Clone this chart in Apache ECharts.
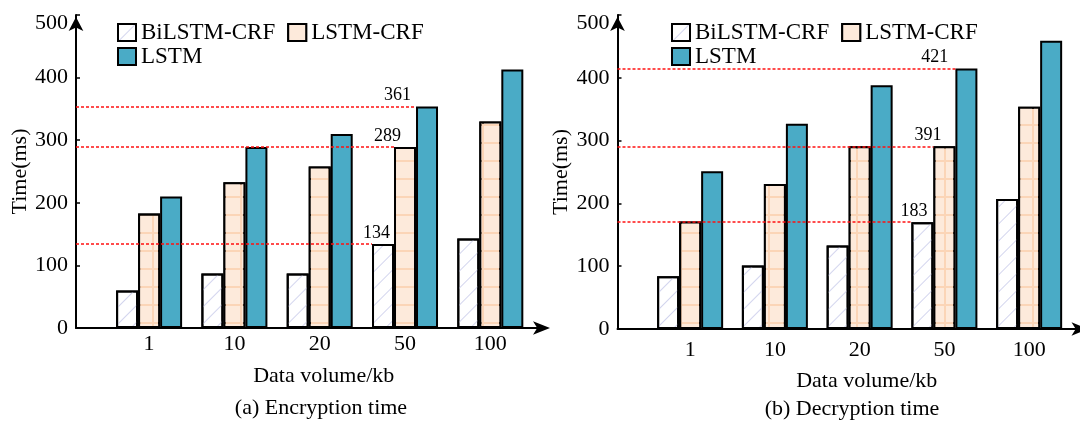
<!DOCTYPE html>
<html><head><meta charset="utf-8">
<script src="https://cdn.jsdelivr.net/npm/echarts@6/dist/echarts.min.js"></script>
<style>html,body{margin:0;padding:0;background:#fff}#c{width:1080px;height:421px}</style>
</head><body><div id="c"></div>
<script>
// ---------- data ----------
const categories = ['1', '10', '20', '50', '100'];
const seriesNames = ['BiLSTM-CRF', 'LSTM-CRF', 'LSTM'];
const encBiLSTMCRF = [60, 87, 87, 134, 143];
const encLSTMCRF = [183, 233, 258, 289, 330];
const encLSTM = [210, 289, 310, 354, 413];
const decBiLSTMCRF = [84, 101, 133, 170, 207];
const decLSTMCRF = [171, 231, 291, 291, 354];
const decLSTM = [251, 327, 388, 415, 459];
const yTickValues = [0, 100, 200, 300, 400, 500];
const encMarkValues = [354, 289, 134];
const encMarkLabels = ['361', '289', '134'];
const decMarkValues = [415, 291, 170];
const decMarkLabels = ['421', '391', '183'];
const markCategory = 3;
const markSeries = [2, 1, 0];
const captions = ['(a) Encryption time', '(b) Decryption time'];
const xTitle = 'Data volume/kb';
const yTitle = 'Time(ms)';

// ---------- styling / layout ----------
const FONT = 'Liberation Serif';
const X_MIN = -0.857, X_MAX = 4.6;
const GRID_W = 465.5;
const BAR_W = 22;
const PX_PER_UNIT = GRID_W / (X_MAX - X_MIN);
const panels = [
  { left: 76, top: 15, height: 313, legendLeft: 117, catMargin: 5, xNameGap: 37, xNamePad: 30, yNameGap: 44,
    caption: { x: 321, y: 397 }, labelDx: [-3, 9, 20] },
  { left: 617.5, top: 15, height: 314, legendLeft: 671, catMargin: 10, xNameGap: 41, xNamePad: 36, yNameGap: 45,
    caption: { x: 852, y: 398 }, labelDx: [-5, 10, 18] }
];
const seriesStyles = [
  { color: '#ffffff', borderColor: '#000', borderWidth: 2,
    decal: { symbol: 'rect', symbolSize: 1, color: '#d3d5ee', dashArrayX: [1, 0], dashArrayY: [1, 11], rotation: -Math.PI / 4 } },
  { color: '#fbd5b7', borderColor: '#000', borderWidth: 2,
    decal: { symbol: 'rect', symbolSize: 1, color: '#fdeadb', dashArrayX: [20, 2], dashArrayY: [16, 2] } },
  { color: '#4aabc6', borderColor: '#000', borderWidth: 2 }
];

const panelData = [
  { values: [encBiLSTMCRF, encLSTMCRF, encLSTM], marks: encMarkValues, markLabels: encMarkLabels },
  { values: [decBiLSTMCRF, decLSTMCRF, decLSTM], marks: decMarkValues, markLabels: decMarkLabels }
];

const grid = [], xAxis = [], yAxis = [], series = [], legend = [], title = [];
panels.forEach((p, gi) => {
  grid.push({ left: p.left, top: p.top, width: GRID_W, height: p.height, containLabel: false });
  xAxis.push({
    type: 'value', gridIndex: gi, min: X_MIN, max: X_MAX,
    axisLine: { show: true, onZero: false, lineStyle: { color: '#000', width: 2 }, symbol: ['none', 'arrow'], symbolSize: [10, 17], symbolOffset: [0, 8.5] },
    axisTick: { show: false }, splitLine: { show: false },
    axisLabel: { customValues: categories.map((c, i) => i), formatter: v => categories[Math.round(v)],
      fontFamily: FONT, fontSize: 22, color: '#000', margin: p.catMargin },
    name: xTitle, nameLocation: 'middle', nameGap: p.xNameGap,
    nameTextStyle: { fontFamily: FONT, fontSize: 22, color: '#000', padding: [0, 0, 0, p.xNamePad] }
  });
  yAxis.push({
    type: 'value', gridIndex: gi, min: 0, max: 500, interval: 100,
    axisLine: { show: true, onZero: false, lineStyle: { color: '#000', width: 2 }, symbol: ['none', 'arrow'], symbolSize: [11, 14], symbolOffset: [0, -2] },
    axisTick: { show: true, inside: true, length: 4, lineStyle: { color: '#000', width: 1.5 } },
    splitLine: { show: false },
    axisLabel: { fontFamily: FONT, fontSize: 22, color: '#000', margin: 8,
      formatter: v => v === yTickValues[yTickValues.length - 1] ? '{t|' + v + '}' : String(v),
      rich: { t: { fontFamily: FONT, fontSize: 22, color: '#000', padding: [16, 0, 0, 0] } } },
    name: yTitle, nameLocation: 'middle', nameGap: p.yNameGap, nameRotate: 90,
    nameTextStyle: { fontFamily: FONT, fontSize: 22, color: '#000' }
  });
  const d = panelData[gi];
  seriesNames.forEach((name, si) => {
    series.push({
      type: 'bar', name, xAxisIndex: gi, yAxisIndex: gi,
      barWidth: BAR_W, barGap: '0%',
      itemStyle: seriesStyles[si],
      data: d.values[si].map((v, i) => [i, v])
    });
  });
  // reference lines: from the y axis to the left edge of the marked bar
  const markData = d.marks.map((mv, mi) => {
    const edgePx = markSeries[mi] * BAR_W - 1.5 * BAR_W;
    const endX = markCategory + edgePx / PX_PER_UNIT;
    const lab = { show: true, formatter: d.markLabels[mi], offset: [p.labelDx[mi], 0] };
    return [{ coord: [X_MIN, mv], label: lab }, { coord: [endX, mv], label: lab }];
  });
  series.push({
    type: 'line', name: 'ref' + gi, xAxisIndex: gi, yAxisIndex: gi, data: [],
    markLine: {
      silent: true, symbol: ['none', 'none'], animation: false,
      lineStyle: { color: '#ff1010', type: [3, 2], width: 1.5 },
      label: { show: true, position: 'insideEndTop', distance: 2, fontFamily: FONT, fontSize: 18, color: '#000' },
      emphasis: { disabled: true },
      data: markData
    }
  });
  const legendBase = {
    left: p.legendLeft, itemWidth: 18, itemHeight: 17, itemGap: 12, padding: 0, icon: 'rect',
    selectedMode: false,
    itemStyle: { borderColor: '#000', borderWidth: 2 },
    textStyle: { fontFamily: FONT, fontSize: 23, color: '#000', lineHeight: 17 }
  };
  legend.push(Object.assign({}, legendBase, { top: 21, data: seriesNames.slice(0, 2) }));
  legend.push(Object.assign({}, legendBase, { top: 45, data: seriesNames.slice(2) }));
  title.push({ text: captions[gi], left: p.caption.x, top: p.caption.y, textAlign: 'center', padding: 0,
    textStyle: { fontFamily: FONT, fontSize: 22, fontWeight: 'normal', color: '#000' } });
});

const chart = echarts.init(document.getElementById('c'), null, { renderer: 'canvas' });
chart.setOption({ animation: false, backgroundColor: '#fff', grid, xAxis, yAxis, series, legend, title });
</script></body></html>
